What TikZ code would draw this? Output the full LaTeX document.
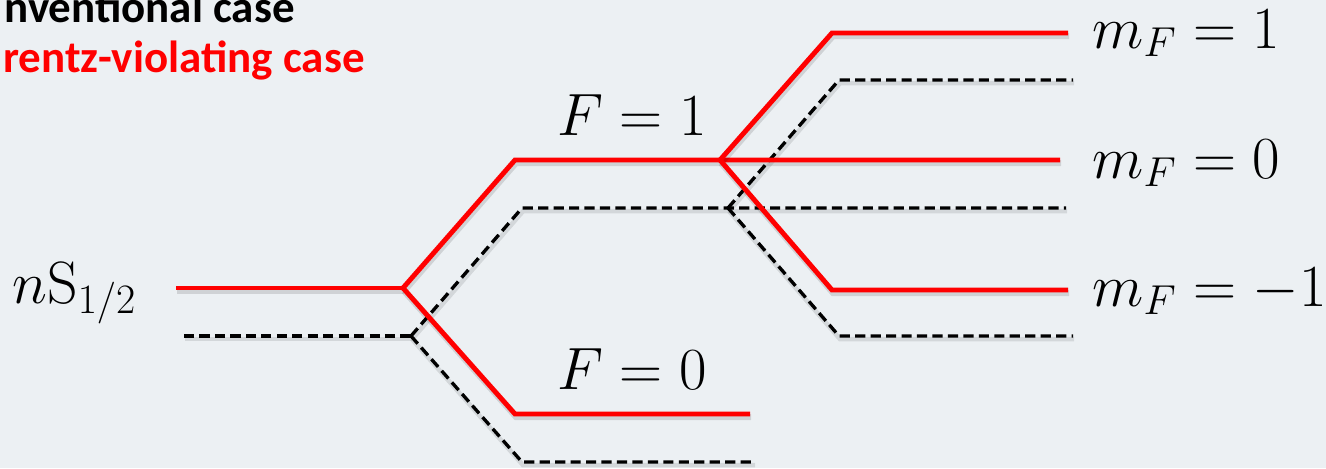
\RequirePackage{fix-cm}
\documentclass[tikz,border=0pt]{standalone}
\usepackage{fontspec}
\newfontfamily\titlefont{Carlito}
\usetikzlibrary{positioning}
\definecolor{bgpaper}{RGB}{236,240,243}
\definecolor{lvred}{RGB}{255,0,0}
\tikzset{
  lvlevel/.style={draw=lvred, line width=2.8pt, line join=miter,
                  preaction={draw=black, opacity=0.12, line width=3.4pt,
                             transform canvas={shift={(0.6pt,-1.8pt)}}}},
  convlevel/.style={draw=black, line width=1.9pt, dash pattern=on 5.8pt off 3pt,
                    preaction={draw=black, opacity=0.10, line width=2.6pt,
                               transform canvas={shift={(0.6pt,-1.8pt)}}}},
  levellabel/.style={font=\fontsize{34}{40}\selectfont, inner sep=0pt},
  casetitle/.style={font=\titlefont\bfseries\fontsize{25.6}{30}\selectfont, inner sep=0pt},
}

\begin{document}
\begin{tikzpicture}[x=0.02cm, y=-0.02cm]
  % Background
  \fill[bgpaper] (0,0) rectangle (1326,468);
  \useasboundingbox (0,0) rectangle (1326,468);

  % Legend
  \node (convtitle) at (295,22) [casetitle, anchor=base east] {nventional case};
  \node (lvtitle) at (365,72) [casetitle, anchor=base east, text=lvred] {rentz-violating case};

  % Lorentz-violating levels
  \coordinate (rS) at (176,288);
  \coordinate (rsplit) at (403,288);
  \coordinate (rFa) at (515,160);
  \coordinate (rFb) at (515,414);
  \coordinate (rFbend) at (750,414);
  \coordinate (rmsplit) at (720,160);
  \coordinate (rmzero) at (1060,160);
  \coordinate (rmup) at (832,33);
  \coordinate (rmupend) at (1068,33);
  \coordinate (rmdown) at (832,290);
  \coordinate (rmdownend) at (1068,290);

  % Conventional levels
  \coordinate (cS) at (184,336);
  \coordinate (csplit) at (411,336);
  \coordinate (cFa) at (522,208);
  \coordinate (cFb) at (522,462);
  \coordinate (cFbend) at (754,462);
  \coordinate (cmsplit) at (728,208);
  \coordinate (cmzero) at (1066,208);
  \coordinate (cmup) at (839,80);
  \coordinate (cmupend) at (1073,80);
  \coordinate (cmdown) at (839,336);
  \coordinate (cmdownend) at (1073,336);

  \draw[convlevel] (cS) -- (csplit);
  \draw[convlevel] (csplit) -- (cFa) -- (cmsplit) -- (cmzero);
  \draw[convlevel] (csplit) -- (cFb) -- (cFbend);
  \draw[convlevel] (cmsplit) -- (cmup) -- (cmupend);
  \draw[convlevel] (cmsplit) -- (cmdown) -- (cmdownend);

  \draw[lvlevel] (rS) -- (rsplit);
  \draw[lvlevel] (rsplit) -- (rFa) -- (rmsplit) -- (rmzero);
  \draw[lvlevel] (rsplit) -- (rFb) -- (rFbend);
  \draw[lvlevel] (rmsplit) -- (rmup) -- (rmupend);
  \draw[lvlevel] (rmsplit) -- (rmdown) -- (rmdownend);

  % Labels
  \node (Slabel) at (12,303) [levellabel, anchor=base west] {$n\mathrm{S}_{1/2}$};
  \node (Fone) at (557,135) [levellabel, anchor=base west] {$F=1$};
  \node (Fzero) at (557,389) [levellabel, anchor=base west] {$F=0$};
  \node (mone) at (1092,48) [levellabel, anchor=base west] {$m_F=1$};
  \node (mzero) at (1092,178) [levellabel, anchor=base west] {$m_F=0$};
  \node (mminus) at (1092,306) [levellabel, anchor=base west] {$m_F=-1$};

\end{tikzpicture}
\end{document}
